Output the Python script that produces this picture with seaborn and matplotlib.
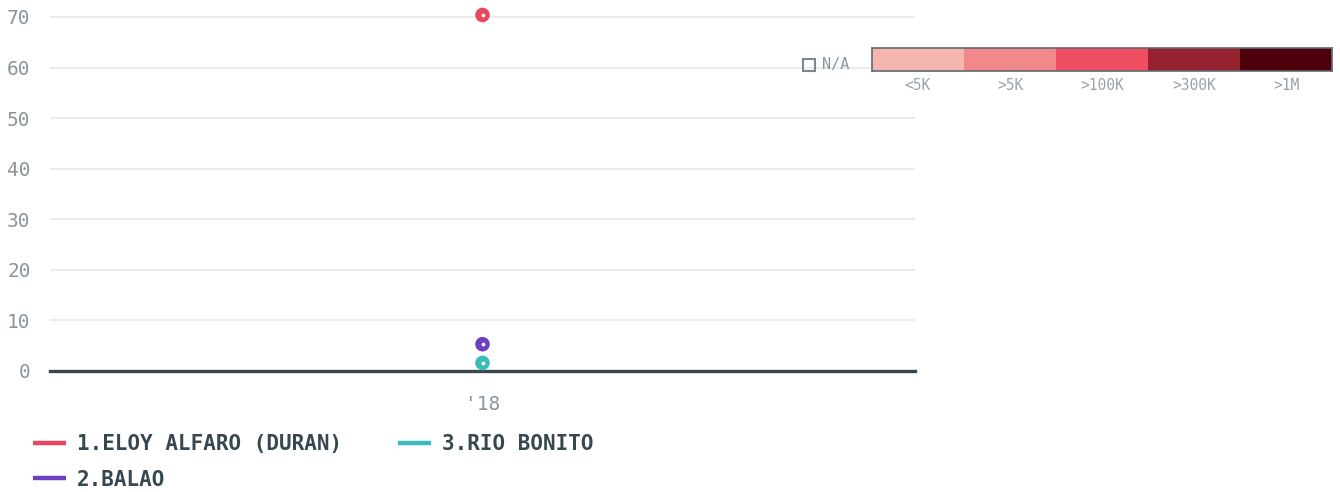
import numpy as np
import pandas as pd
import seaborn as sns
import matplotlib.pyplot as plt
from matplotlib.colors import ListedColormap
from matplotlib.patches import Rectangle
from matplotlib.lines import Line2D

# ---- data ----
years = ["'18"]
series_names = ["1.ELOY ALFARO (DURAN)", "2.BALAO", "3.RIO BONITO"]
series_values = [70.4, 5.3, 1.6]
series_colors = ["#e8475f", "#6c3fc4", "#3bbcbc"]
yticks = [0, 10, 20, 30, 40, 50, 60, 70]
bin_labels = ["<5K", ">5K", ">100K", ">300K", ">1M"]
bin_colors = ["#f4b6ae", "#f2888a", "#f04e62", "#952130", "#4d0009"]

df = pd.DataFrame({
    "year": [years[0]] * len(series_names),
    "name": series_names,
    "value": series_values,
})

sns.set_theme(style="white")
plt.rcParams["font.family"] = ["DejaVu Sans Mono", "DejaVu Sans"]

fig = plt.figure(figsize=(13.4, 4.92), dpi=100)
ax = fig.add_axes([50 / 1340, (492 - 371) / 492, 865 / 1340, 366 / 492])

sns.scatterplot(data=df, x="year", y="value", hue="name",
                palette=dict(zip(series_names, series_colors)),
                s=110, edgecolor="none", legend=False, ax=ax, zorder=5)
ax.scatter([0] * len(series_values), series_values, s=3, color="#fff6d0", zorder=6)

ax.set_xlim(-0.5, 0.5)
ax.set_ylim(0, (371 - 5) / (354 / 70))
ax.set_yticks(yticks)
ax.yaxis.grid(True, color="#ebebeb", lw=1.5)
ax.set_axisbelow(True)
for s in ["top", "right", "left"]:
    ax.spines[s].set_visible(False)
ax.spines["bottom"].set_color("#37474f")
ax.spines["bottom"].set_linewidth(2.4)
ax.spines["bottom"].set_zorder(4)
ax.set_xlabel("")
ax.set_ylabel("")
ax.tick_params(axis="both", length=0, labelsize=14, colors="#8a949b")
ax.tick_params(axis="x", pad=17)
ax.tick_params(axis="y", pad=14)
for lbl in ax.get_yticklabels():
    lbl.set_horizontalalignment("right")

# series legend
handles = [Line2D([0], [0], color=c, lw=3.2, solid_capstyle="butt") for c in series_colors]
leg = fig.legend(handles, series_names, loc="upper left",
                 bbox_to_anchor=(33 / 1340, (492 - 434) / 492), ncol=2,
                 frameon=False, handlelength=1.6, handletextpad=0.5,
                 columnspacing=2.7, labelspacing=0.75,
                 borderaxespad=0, borderpad=0,
                 prop={"family": "DejaVu Sans Mono", "weight": "bold", "size": 15})
for t in leg.get_texts():
    t.set_color("#37474f")

# color-bin legend
cax = fig.add_axes([872 / 1340, (492 - 71) / 492, 460 / 1340, 23 / 492])
sns.heatmap(np.array([list(range(len(bin_colors)))]), cmap=ListedColormap(bin_colors),
            cbar=False, ax=cax, linewidths=0, vmin=-0.5, vmax=len(bin_colors) - 0.5)
cax.set_yticks([])
cax.set_xticks(np.arange(len(bin_labels)) + 0.5)
cax.set_xticklabels(bin_labels, rotation=0)
cax.tick_params(axis="x", length=0, labelsize=10.5, colors="#9aa2a8", pad=5)
for s in cax.spines.values():
    s.set_visible(True)
    s.set_color("#5f6a70")
    s.set_linewidth(1.2)

# N/A marker
fig.patches.append(Rectangle((803 / 1340, (492 - 71) / 492), 12 / 1340, 12 / 492,
                             transform=fig.transFigure, fill=False,
                             edgecolor="#7d878d", lw=1.5))
fig.text(822 / 1340, (492 - 65) / 492, "N/A", fontsize=11, color="#8a949b",
         va="center", ha="left")

fig.savefig("out.png", dpi=100, facecolor="white")
